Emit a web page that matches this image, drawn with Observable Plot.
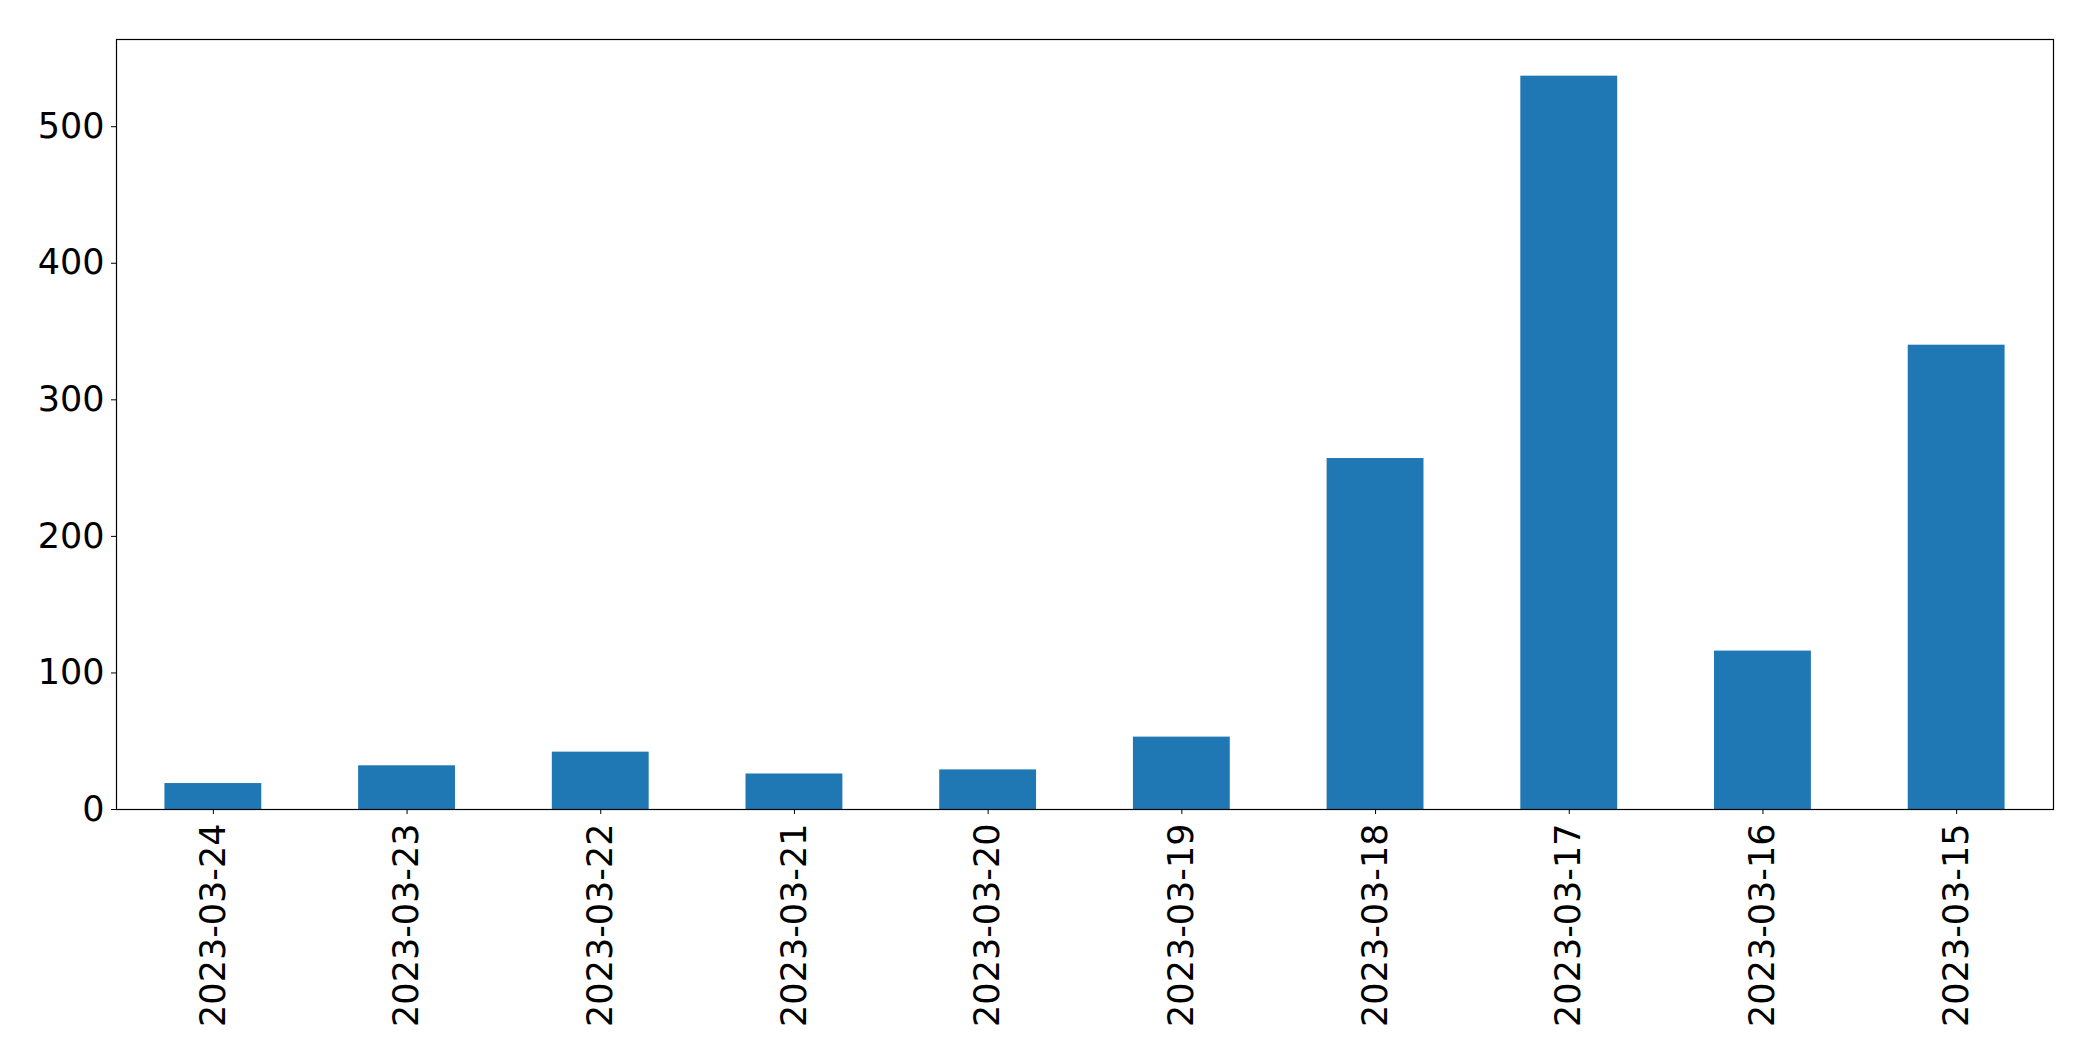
<!DOCTYPE html>
<html>
<head>
<meta charset="utf-8">
<script src="https://cdn.jsdelivr.net/npm/d3@7"></script>
<script src="https://cdn.jsdelivr.net/npm/@observablehq/plot@0.6"></script>
<style>
  html, body { margin: 0; padding: 0; background: #fff; }
  #chart svg { display: block; }
</style>
</head>
<body>
<div id="chart"></div>
<script>
const dates = ["2023-03-24", "2023-03-23", "2023-03-22", "2023-03-21", "2023-03-20",
               "2023-03-19", "2023-03-18", "2023-03-17", "2023-03-16", "2023-03-15"];
const counts = [19, 32, 42, 26, 29, 53, 257, 537, 116, 340];
const yTicks = [0, 100, 200, 300, 400, 500];

const data = dates.map((d, i) => ({date: d, count: counts[i]}));
const yMax = d3.max(counts) * 1.05;

const chart = Plot.plot({
  width: 2093,
  height: 1061,
  marginLeft: 116,
  marginRight: 40,
  marginTop: 39,
  marginBottom: 252,
  style: {fontFamily: "DejaVu Sans", fontSize: "35px", color: "#000", background: "#fff"},
  x: {domain: dates, paddingInner: 0.5, paddingOuter: 0.25, round: false, label: null},
  y: {domain: [0, yMax], label: null},
  marks: [
    Plot.barY(data, {x: "date", y: "count", fill: "#1f77b4"}),
    Plot.axisX({tickRotate: -90, tickSize: 5, tickPadding: 9, fontSize: 35, label: null, stroke: "#000"}),
    Plot.axisY({ticks: yTicks, tickSize: 5, tickPadding: 7, fontSize: 35, label: null, stroke: "#000"}),
    Plot.frame({stroke: "#000", strokeWidth: 1.2})
  ]
});
document.getElementById("chart").appendChild(chart);
</script>
</body>
</html>
